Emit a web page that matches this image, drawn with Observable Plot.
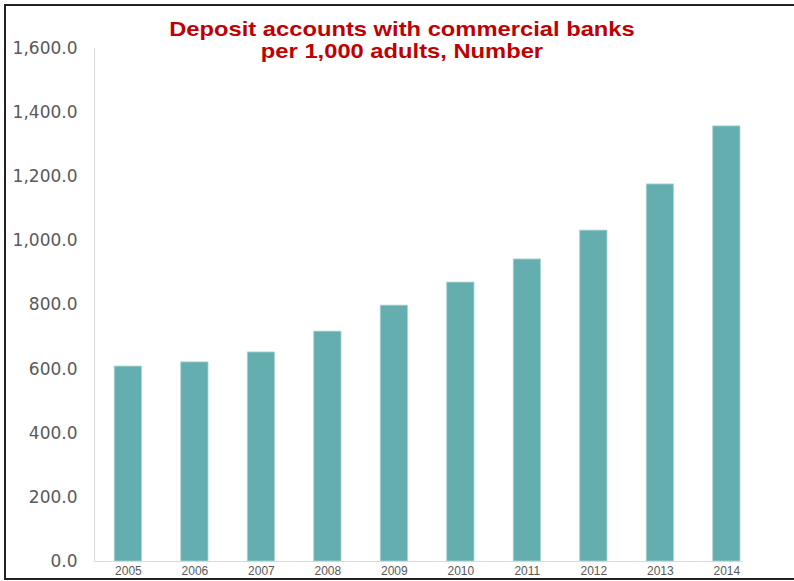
<!DOCTYPE html>
<html>
<head>
<meta charset="utf-8">
<script src="https://cdn.jsdelivr.net/npm/d3@7"></script>
<script src="https://cdn.jsdelivr.net/npm/@observablehq/plot@0.6"></script>
<style>
  html, body { margin: 0; padding: 0; background: #fff; }
  #wrap { position: relative; width: 794px; height: 581px; overflow: hidden; font-family: "Liberation Sans", Arial, sans-serif; }
  #frame { position: absolute; left: 4px; top: 4px; width: 800px; height: 576px; border-left: 2px solid #222; border-top: 2px solid #222; border-bottom: 2px solid #222; box-sizing: border-box; pointer-events: none; }
  .title { position: absolute; left: 0; width: 804px; text-align: center; color: #c00000; font-weight: bold; font-size: 21px; line-height: 21px; height: 21px; transform: scaleX(1.13); transform-origin: 402px 0; white-space: nowrap; }
  #t1 { top: 18px; }
  #t2 { top: 40px; }
  #chart { position: absolute; left: 0; top: 0; }
</style>
</head>
<body>
<div id="wrap">
  <div id="chart"></div>
  <div id="t1" class="title">Deposit accounts with commercial banks</div>
  <div id="t2" class="title">per 1,000 adults, Number</div>
  <div id="frame"></div>
</div>
<script>
const years = ["2005","2006","2007","2008","2009","2010","2011","2012","2013","2014"];
const accounts = [608, 621, 652, 717, 798, 870, 942, 1032, 1176, 1357];
const yTicks = [0, 200, 400, 600, 800, 1000, 1200, 1400, 1600];

const data = years.map((y, i) => ({year: y, value: accounts[i]}));

const chart = Plot.plot({
  width: 794,
  height: 581,
  marginLeft: 94,
  marginRight: 51,
  marginTop: 48,
  marginBottom: 20,
  style: {fontFamily: "'Liberation Sans', Arial, sans-serif", background: "transparent", overflow: "visible"},
  x: {domain: years, paddingInner: 0.59, paddingOuter: 0.175, align: 0.87, round: false, label: null},
  y: {domain: [0, 1600], label: null},
  marks: [
    Plot.barY(data, {x: "year", y: "value", fill: "#64aeb0", stroke: "#a9d3d4", strokeWidth: 0.8}),
    Plot.frame({anchor: "left", stroke: "#d9d9d9", strokeWidth: 1}),
    Plot.ruleY([0], {stroke: "#d9d9d9", strokeWidth: 1}),
    Plot.axisY({ticks: yTicks, tickSize: 0, tickPadding: 17, tickFormat: d3.format(",.1f"), fontSize: 17, fontFamily: "'DejaVu Sans', sans-serif", fill: "#595959", label: null}),
    Plot.axisX({tickSize: 0, tickPadding: 5, fontSize: 12, fill: "#595959", label: null})
  ]
});
document.getElementById("chart").appendChild(chart);
</script>
</body>
</html>
